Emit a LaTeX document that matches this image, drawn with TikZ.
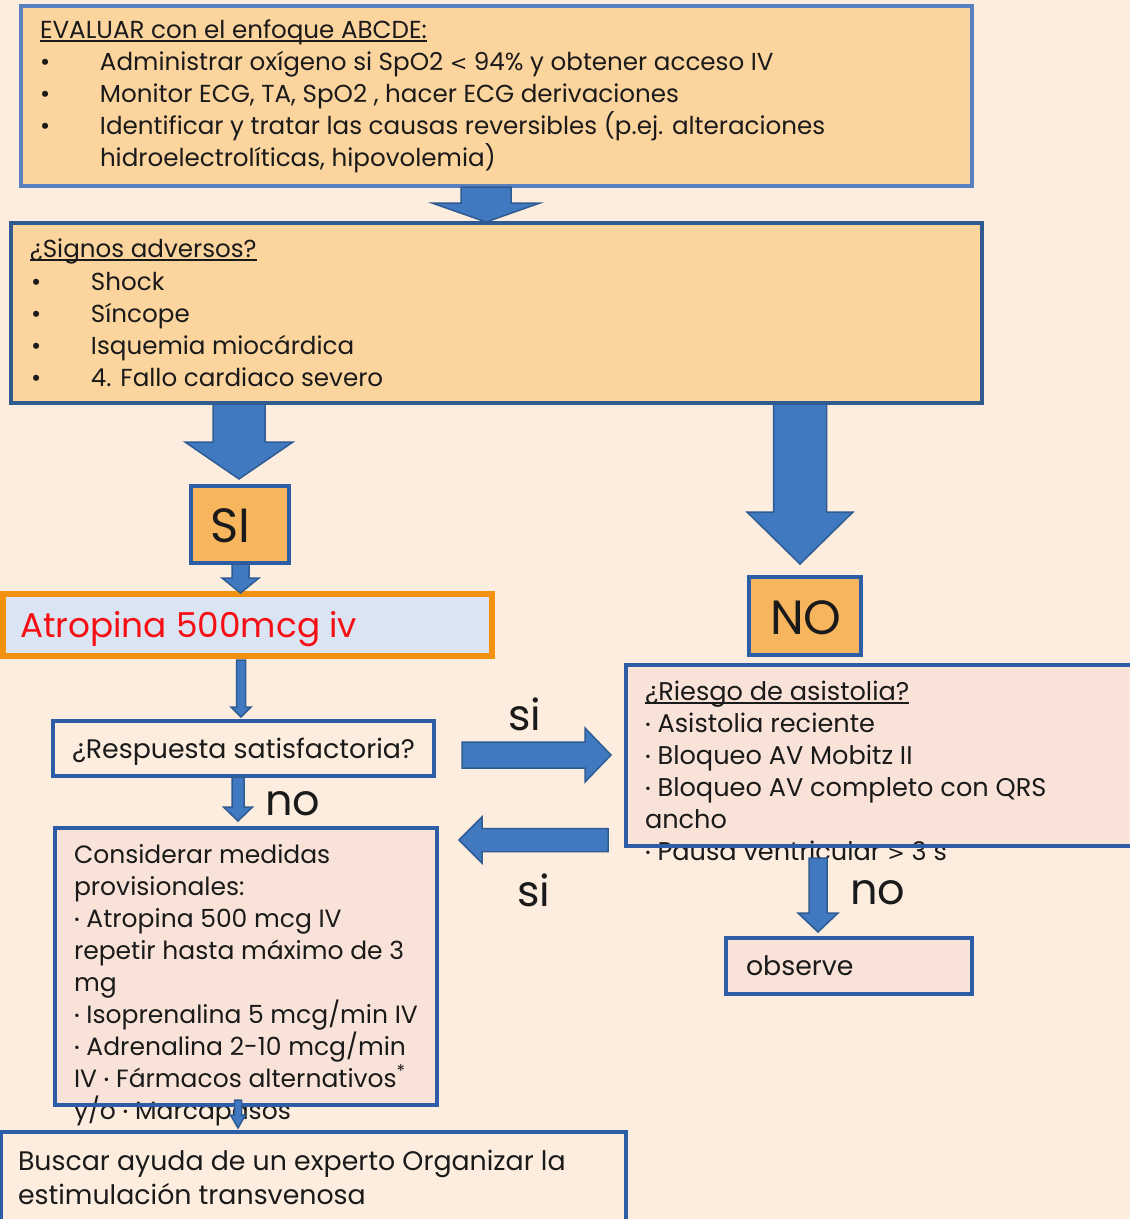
\documentclass[tikz,border=0pt]{standalone}
\usepackage{fontspec}
\setmainfont{Poppins}
\newfontfamily\symf{DejaVu Sans}
\usetikzlibrary{calc}
\definecolor{bgc}{HTML}{FDEDDE}
\definecolor{boxtan}{HTML}{FBD49E}
\definecolor{bordA}{HTML}{5B80C0}
\definecolor{bordB}{HTML}{2F5B8F}
\definecolor{bordC}{HTML}{2E5DA8}
\definecolor{orfill}{HTML}{F7B65E}
\definecolor{pinkfill}{HTML}{F9E3D8}
\definecolor{blufill}{HTML}{DAE4F2}
\definecolor{orbord}{HTML}{F59110}
\definecolor{arrfill}{HTML}{4179C1}
\definecolor{arrline}{HTML}{2E5C92}
\definecolor{txtc}{HTML}{1A1A1A}
\definecolor{redtxt}{HTML}{F50F14}
\newcommand\arrD[5]{\filldraw[blockarrow] let \p1=(#1), \p2=(#2) in (\x1-#3pt,\y1) -- (\x1+#3pt,\y1) -- (\x1+#3pt,\y2+#5pt) -- (\x1+#4pt,\y2+#5pt) -- (\x1,\y2) -- (\x1-#4pt,\y2+#5pt) -- (\x1-#3pt,\y2+#5pt) -- cycle;}
\newcommand\arrR[5]{\filldraw[blockarrow] let \p1=(#1), \p2=(#2) in (\x1,\y1+#3pt) -- (\x2-#5pt,\y1+#3pt) -- (\x2-#5pt,\y1+#4pt) -- (\x2,\y1) -- (\x2-#5pt,\y1-#4pt) -- (\x2-#5pt,\y1-#3pt) -- (\x1,\y1-#3pt) -- cycle;}
\newcommand\arrL[5]{\filldraw[blockarrow] let \p1=(#1), \p2=(#2) in (\x1,\y1+#3pt) -- (\x2+#5pt,\y1+#3pt) -- (\x2+#5pt,\y1+#4pt) -- (\x2,\y1) -- (\x2+#5pt,\y1-#4pt) -- (\x2+#5pt,\y1-#3pt) -- (\x1,\y1-#3pt) -- cycle;}
\newcommand\bul{\makebox[60pt][l]{•}}
\newcommand\sd{\raisebox{2.5pt}{\fontsize{14}{14}\selectfont•}\ }
\newcommand\lt{{\symf\fontsize{21}{24}\selectfont <}}
\newcommand\gt{{\symf\fontsize{21}{24}\selectfont >}}
\begin{document}
\begin{tikzpicture}[x=1pt,y=-1pt,
  every node/.style={inner sep=0pt,outer sep=0pt},
  boxnode/.style={anchor=north west,rectangle},
  blockarrow/.style={fill=arrfill,draw=arrline,line width=1.5pt,line join=miter},
  body/.style={anchor=base west,text=txtc,font=\fontsize{24.6}{29}\selectfont},
  bodyC/.style={anchor=base west,text=txtc,font=\fontsize{25}{29}\selectfont},
  bodyR/.style={anchor=base west,text=txtc,font=\fontsize{25.6}{29}\selectfont},
  bodyL/.style={anchor=base west,text=txtc,font=\fontsize{26.8}{30}\selectfont},
  big/.style={anchor=base west,text=txtc,font=\fontsize{48}{56}\selectfont},
  lbl/.style={anchor=base west,text=txtc,font=\fontsize{43}{50}\selectfont},
  uline/.style={draw=txtc,line width=1.3pt}]
\useasboundingbox (0,0) rectangle (1130,1219);
\clip (0,0) rectangle (1130,1219);
\fill[bgc] (0,0) rectangle (1130,1219);
% box fills
\node[boxnode,fill=boxtan,minimum width=951pt,minimum height=180pt] (box1) at (21,6) {};
\node[boxnode,fill=boxtan,minimum width=971pt,minimum height=180pt] (box2) at (11,223) {};
\node[boxnode,fill=orfill,minimum width=98pt,minimum height=77pt] (si) at (191,486) {};
\node[boxnode,fill=orfill,minimum width=112pt,minimum height=78pt] (no) at (749,577) {};
\node[boxnode,fill=blufill,minimum width=489pt,minimum height=62pt] (atro) at (3,594) {};
\node[boxnode,fill=bgc,minimum width=381pt,minimum height=55pt] (resp) at (53,721) {};
\node[boxnode,fill=pinkfill,minimum width=382pt,minimum height=277pt] (cons) at (55,828) {};
\node[boxnode,fill=bgc,minimum width=625pt,minimum height=100pt] (busc) at (1,1132) {};
\node[boxnode,fill=pinkfill,minimum width=520pt,minimum height=181pt] (ries) at (626,665) {};
\node[boxnode,fill=pinkfill,minimum width=246pt,minimum height=56pt] (obs) at (726,938) {};
% texts box1
\node[body] (t1h) at (40,38) {EVALUAR con el enfoque ABCDE:};
\node[body] (t1a) at (40,70) {\bul Administrar oxígeno si SpO2 \lt{} 94\% y obtener acceso IV};
\node[body] (t1b) at (40,102) {\bul Monitor ECG, TA, SpO2 , hacer ECG derivaciones};
\node[body] (t1c) at (40,134) {\bul Identificar y tratar las causas reversibles (p.ej. alteraciones};
\node[body] (t1d) at (100,166) {hidroelectrolíticas, hipovolemia)};
% texts box2
\node[body] (t2h) at (30,257) {¿Signos adversos?};
\node[body] (t2a) at (31,290) {\bul Shock};
\node[body] (t2b) at (31,322) {\bul Síncope};
\node[body] (t2c) at (31,354) {\bul Isquemia miocárdica};
\node[body] (t2d) at (31,386) {\bul 4. Fallo cardiaco severo};
% SI / NO
\node[big] (tsi) at (210,542) {SI};
\node[big] (tno) at (770,634) {NO};
% atropina
\node[anchor=base west,text=redtxt,font=\fontsize{34.3}{40}\selectfont] (tat) at (20,637) {Atropina 500mcg iv};
% respuesta
\node[bodyL] (tre) at (72,758) {¿Respuesta satisfactoria?};
% considerar
\node[bodyC] (tc1) at (74,863) {Considerar medidas};
\node[bodyC] (tc2) at (74,895) {provisionales:};
\node[bodyC] (tc3) at (74,927) {\sd Atropina 500 mcg IV};
\node[bodyC] (tc4) at (74,959) {repetir hasta máximo de 3};
\node[bodyC] (tc5) at (74,991) {mg};
\node[bodyC] (tc6) at (74,1023) {\sd Isoprenalina 5 mcg/min IV};
\node[bodyC] (tc7) at (74,1055) {\sd Adrenalina 2-10 mcg/min};
\node[bodyC] (tc8) at (74,1087) {IV \sd Fármacos alternativos\textsuperscript{*}};
\node[bodyC] (tc9) at (74,1119) {y/o \sd Marcapasos};
% buscar
\node[bodyL] (tb1) at (18,1170) {Buscar ayuda de un experto Organizar la};
\node[bodyL] (tb2) at (18,1204) {estimulación transvenosa};
% riesgo
\node[bodyR] (tr0) at (645,700) {¿Riesgo de asistolia?};
\node[bodyR] (tr1) at (645,732) {\sd Asistolia reciente};
\node[bodyR] (tr2) at (645,764) {\sd Bloqueo AV Mobitz II};
\node[bodyR] (tr3) at (645,796) {\sd Bloqueo AV completo con QRS};
\node[bodyR] (tr4) at (645,828) {ancho};
\node[bodyR] (tr5) at (645,860) {\sd Pausa ventricular \gt{} 3 s};
% observe
\node[bodyL] (tob) at (746,975) {observe};
% labels
\node[lbl] (lsi1) at (508,730) {si};
\node[lbl] (lsi2) at (517,906) {si};
\node[lbl] (lno1) at (265,815) {no};
\node[lbl] (lno2) at (850,904) {no};
% underlines
\draw[uline] ([yshift=-3pt]t1h.base west) -- ([yshift=-3pt]t1h.base east);
\draw[uline] ([yshift=-3pt]t2h.base west) -- ([yshift=-3pt]t2h.base east);
\draw[uline] ([yshift=-3pt]tr0.base west) -- ([yshift=-3pt]tr0.base east);
% borders
\draw[bordA,line width=4pt] (box1.north west) rectangle (box1.south east);
\draw[bordB,line width=4pt] (box2.north west) rectangle (box2.south east);
\draw[bordC,line width=3.5pt] (si.north west) rectangle (si.south east);
\draw[bordC,line width=3.5pt] (no.north west) rectangle (no.south east);
\draw[orbord,line width=6.5pt] (atro.north west) rectangle (atro.south east);
\draw[bordC,line width=3.5pt] (resp.north west) rectangle (resp.south east);
\draw[bordC,line width=3.5pt] (cons.north west) rectangle (cons.south east);
\draw[bordC,line width=3.5pt] (busc.north west) rectangle (busc.south east);
\draw[bordC,line width=3.5pt] (ries.north west) rectangle (ries.south east);
\draw[bordC,line width=3.5pt] (obs.north west) rectangle (obs.south east);
% arrow end points
\coordinate (a1s) at ($(box1.south west)+(465,1)$);
\coordinate (a1e) at ($(box2.north west)+(475,-1)$);
\coordinate (a2s) at ($(box2.south west)+(228,1)$);
\coordinate (a2e) at ($(si.north west)+(48,-7)$);
\coordinate (a3s) at ($(si.south west)+(49.5,1)$);
\coordinate (a3e) at ($(atro.north west)+(237.5,-1)$);
\coordinate (a4s) at ($(atro.south west)+(238,4)$);
\coordinate (a4e) at ($(resp.north west)+(188,-4)$);
\coordinate (a5s) at ($(resp.south west)+(185,1)$);
\coordinate (a5e) at ($(cons.north west)+(183,-7)$);
\coordinate (a6s) at ($(cons.south west)+(183,-5)$);
\coordinate (a6e) at ($(busc.north west)+(237,-4)$);
\coordinate (a7s) at ($(box2.south west)+(789,1)$);
\coordinate (a7e) at ($(no.north west)+(51,-13)$);
\coordinate (a8s) at ($(resp.north east)+(28,34)$);
\coordinate (a8e) at ($(ries.north west)+(-15,90)$);
\coordinate (a9s) at ($(ries.south west)+(-18,-6)$);
\coordinate (a9e) at ($(cons.north east)+(22,12)$);
\coordinate (a10s) at ($(ries.south west)+(192,12)$);
\coordinate (a10e) at ($(obs.north west)+(92,-6)$);
% block arrows
\arrD{a1s}{a1e}{25}{54}{19}
\arrD{a2s}{a2e}{26}{54}{37}
\arrD{a3s}{a3e}{8.5}{18.5}{15}
\arrD{a4s}{a4e}{4.5}{10}{10}
\arrD{a5s}{a5e}{6}{14.5}{14}
\arrD{a6s}{a6e}{3.5}{7.5}{13}
\arrD{a7s}{a7e}{26.5}{53}{52}
\arrR{a8s}{a8e}{13}{27}{26}
\arrL{a9s}{a9e}{11.5}{23}{23}
\arrD{a10s}{a10e}{9}{20}{19}
\end{tikzpicture}
\end{document}
